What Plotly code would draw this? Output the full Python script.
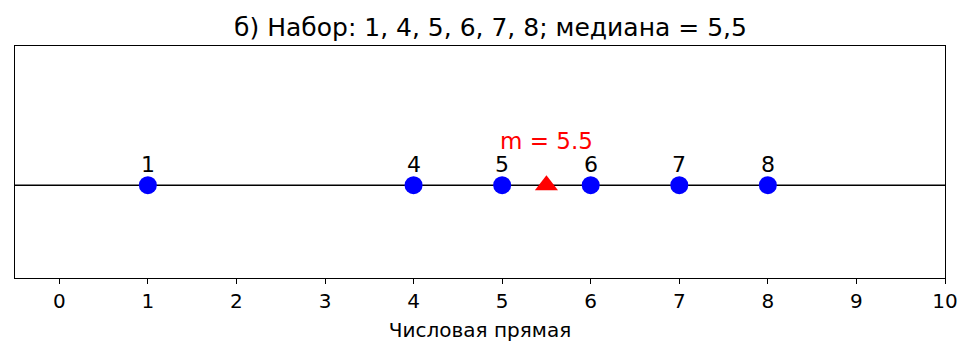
import plotly.graph_objects as go

values = [1, 4, 5, 6, 7, 8]
median = 5.5
tick_vals = list(range(0, 11))
title_text = "б) Набор: 1, 4, 5, 6, 7, 8; медиана = 5,5"
xlabel = "Числовая прямая"

fig = go.Figure()
fig.add_shape(type="line", xref="paper", x0=0, x1=1, yref="y", y0=0, y1=0,
              line=dict(color="black", width=1.5), layer="below")
fig.add_trace(go.Scatter(x=values, y=[0] * len(values), mode="markers",
                         marker=dict(color="blue", size=18, line=dict(width=0)),
                         showlegend=False))
fig.add_trace(go.Scatter(x=[median], y=[0], mode="markers",
                         marker=dict(color="red", size=20, symbol="triangle-up", line=dict(width=0)),
                         showlegend=False))
for v in values:
    fig.add_annotation(x=v, y=0.07, text=str(v), showarrow=False, yanchor="bottom",
                       font=dict(size=22, color="black", family="DejaVu Sans"))
fig.add_annotation(x=median, y=0.31, text=f"m = {median}", showarrow=False, yanchor="bottom",
                   font=dict(size=23, color="red", family="DejaVu Sans"))

fig.update_layout(
    width=965, height=348,
    margin=dict(l=7, r=28, t=38, b=78),
    paper_bgcolor="white", plot_bgcolor="white",
    font=dict(family="DejaVu Sans", color="black"),
    title=dict(text=title_text, x=0.5, xanchor="center", y=1, yanchor="top",
               pad=dict(t=10), font=dict(size=25, color="black")),
    showlegend=False,
)
fig.update_xaxes(range=[-0.5, 10], tickvals=tick_vals, ticks="outside", ticklen=5,
                 tickwidth=1.2, tickcolor="black", showgrid=False, zeroline=False,
                 showline=True, linecolor="black", linewidth=1.2, mirror=True,
                 tickfont=dict(size=20), title=dict(text=xlabel, font=dict(size=20), standoff=10))
fig.update_yaxes(range=[-1, 1.5], showticklabels=False, ticks="", showgrid=False,
                 zeroline=False, showline=True, linecolor="black", linewidth=1.2, mirror=True)

fig.write_html("out.html")
